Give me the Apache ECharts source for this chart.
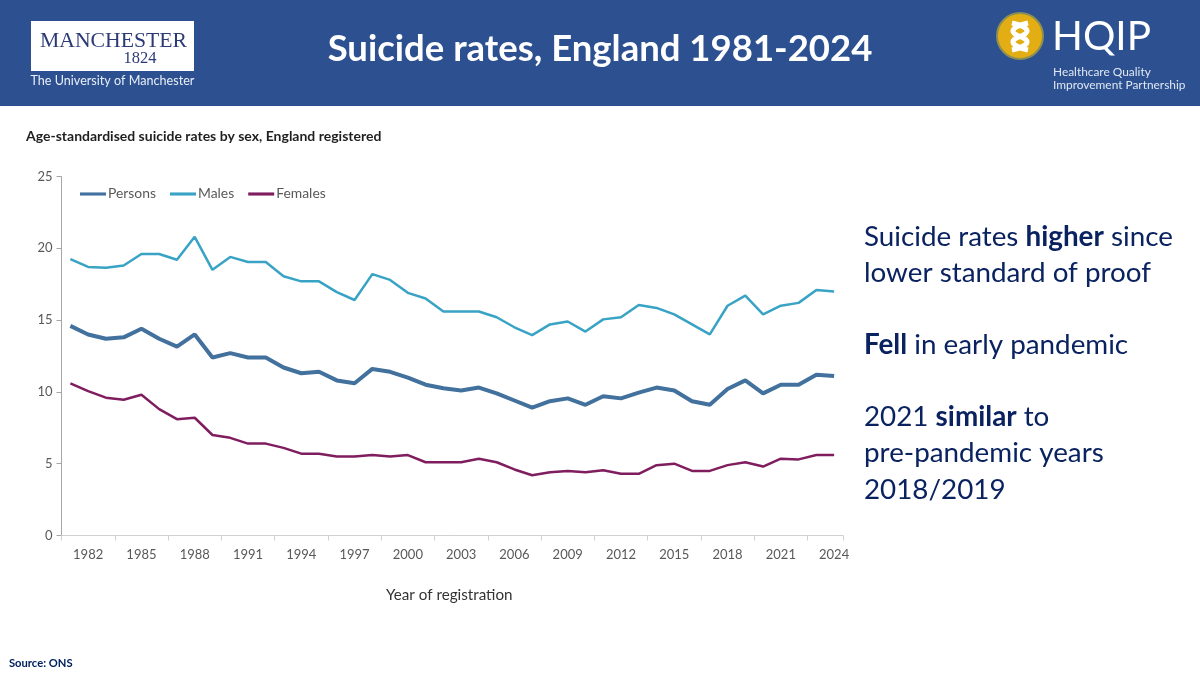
<!DOCTYPE html>
<html><head><meta charset="utf-8">
<style>html,body{margin:0;padding:0;background:#fff}#c{width:1200px;height:675px}</style>
<script src="https://cdn.jsdelivr.net/npm/echarts@6/dist/echarts.min.js"></script>
</head><body><div id="c"></div>
<script>
const years = [1981,1982,1983,1984,1985,1986,1987,1988,1989,1990,1991,1992,1993,1994,1995,1996,1997,1998,1999,2000,2001,2002,2003,2004,2005,2006,2007,2008,2009,2010,2011,2012,2013,2014,2015,2016,2017,2018,2019,2020,2021,2022,2023,2024].map(String);
const persons = [14.6,14.0,13.7,13.8,14.4,13.7,13.15,14.0,12.4,12.7,12.4,12.4,11.7,11.3,11.4,10.8,10.6,11.6,11.4,11.0,10.5,10.25,10.1,10.3,9.9,9.4,8.9,9.35,9.55,9.1,9.7,9.55,9.95,10.3,10.1,9.35,9.1,10.2,10.8,9.9,10.5,10.5,11.2,11.1];
const males = [19.25,18.7,18.65,18.8,19.6,19.6,19.2,20.8,18.5,19.4,19.05,19.05,18.05,17.7,17.7,16.95,16.4,18.2,17.8,16.9,16.5,15.6,15.6,15.6,15.2,14.5,13.95,14.7,14.9,14.2,15.05,15.2,16.05,15.85,15.4,14.7,14.0,16.0,16.7,15.4,16.0,16.2,17.1,17.0];
const females = [10.6,10.05,9.6,9.45,9.8,8.8,8.1,8.2,7.0,6.8,6.4,6.4,6.1,5.7,5.7,5.5,5.5,5.6,5.5,5.6,5.1,5.1,5.1,5.35,5.1,4.6,4.2,4.4,4.5,4.4,4.55,4.3,4.3,4.9,5.0,4.5,4.5,4.9,5.1,4.8,5.35,5.3,5.6,5.6];
const FONT = 'Lato, "Open Sans", sans-serif';
const NAVY = '#0a2360';
const BODY = 27.8;
function t(x,y,text,size,color,extra){
  return {type:'text',x:x,y:y,z:10,silent:true,style:Object.assign({text:text,fontFamily:FONT,fontSize:size,fill:color,textVerticalAlign:'middle'},extra||{})};
}
function rich(x,y,text){
  return {type:'text',x:x,y:y,z:10,silent:true,style:{text:text,fontFamily:FONT,fontSize:BODY,fill:NAVY,textVerticalAlign:'middle',
    rich:{b:{fontFamily:FONT,fontSize:BODY,fontWeight:'bold',fill:NAVY}, n:{fontFamily:FONT,fontSize:BODY,fill:NAVY}}}};
}
const graphic = [
  {type:'rect',z:1,silent:true,shape:{x:0,y:0,width:1200,height:106},style:{fill:'#2c5090'}},
  {type:'rect',z:2,silent:true,shape:{x:31,y:21,width:163,height:50},style:{fill:'#ffffff'}},
  t(113.5,41,'MANCHESTER',21.7,'#2b3a75',{fontFamily:'"Liberation Serif",serif',textAlign:'center'}),
  t(140,59,'1824',16.5,'#2b3a75',{fontFamily:'"Liberation Serif",serif',textAlign:'center'}),
  t(30.5,81,'The University of Manchester',12.6,'#e8eef8'),
  t(600,49,'Suicide rates, England 1981-2024',36.5,'#ffffff',{fontWeight:'bold',textAlign:'center'}),
  {type:'circle',z:3,silent:true,shape:{cx:1020,cy:36,r:23},style:{fill:'#e3ae14',stroke:'#8c8f52',lineWidth:2}},
  {type:'polyline',z:4,silent:true,shape:{smooth:0.5,points:[[1012,23],[1027,31],[1013,42],[1028,50]]},style:{stroke:'#ffffff',lineWidth:5,fill:null}},
  {type:'polyline',z:4,silent:true,shape:{smooth:0.5,points:[[1028,23],[1013,31],[1027,42],[1012,50]]},style:{stroke:'#ffffff',lineWidth:5,fill:null}},
  t(1052,37,'HQIP',40.5,'#ffffff'),
  t(1053,72,'Healthcare Quality',11.9,'#dfe7f3'),
  t(1053,85,'Improvement Partnership',11.9,'#dfe7f3'),
  t(26,136,'Age-standardised suicide rates by sex, England registered',14,'#1f1f1f',{fontWeight:'bold'}),
  t(9,663,'Source: ONS',11.2,'#002060',{fontWeight:'bold'}),
  rich(864,237,'{n|Suicide rates }{b|higher}{n| since}'),
  rich(864,273,'{n|lower standard of proof}'),
  rich(864,345,'{b|Fell}{n| in early pandemic}'),
  rich(864,417,'{n|2021 }{b|similar}{n| to}'),
  rich(864,453,'{n|pre-pandemic years}'),
  rich(864,490,'{n|2018/2019}')
];
const chart = echarts.init(document.getElementById('c'),null,{renderer:'canvas'});
chart.setOption({
  animation:false,
  backgroundColor:'#ffffff',
  textStyle:{fontFamily:FONT},
  graphic:graphic,
  grid:{left:61.5,right:357,top:176.5,bottom:139.5,containLabel:false},
  legend:{left:75,top:182,itemWidth:26,itemHeight:10,itemGap:14,icon:'path://M0 0H100V12H0Z',
    textStyle:{color:'#595959',fontSize:13.9,fontFamily:FONT,padding:[0,0,0,-3]},data:['Persons','Males','Females']},
  xAxis:{type:'category',data:years,boundaryGap:true,
    name:'Year of registration',nameLocation:'middle',nameGap:52,nameTextStyle:{color:'#333333',fontSize:15.2,fontFamily:FONT,padding:[0,6,0,0]},
    axisLine:{lineStyle:{color:'#d0d0d0',width:1}},
    axisTick:{show:true,length:5,interval:(i)=>i%3===0,lineStyle:{color:'#d0d0d0'}},
    axisLabel:{interval:(i)=>i%3===1,color:'#595959',fontSize:13,margin:13,fontFamily:FONT,hideOverlap:false}},
  yAxis:{type:'value',min:0,max:25,interval:5,
    axisLine:{show:true,lineStyle:{color:'#a6a6a6',width:1}},
    axisTick:{show:true,length:5,lineStyle:{color:'#a6a6a6'}},
    splitLine:{show:false},
    axisLabel:{color:'#595959',fontSize:13,margin:9,fontFamily:FONT}},
  series:[
    {name:'Persons',type:'line',data:persons,symbol:'none',lineStyle:{color:'#41719c',width:4},itemStyle:{color:'#41719c'}},
    {name:'Males',type:'line',data:males,symbol:'none',lineStyle:{color:'#38a3c4',width:2.5},itemStyle:{color:'#38a3c4'}},
    {name:'Females',type:'line',data:females,symbol:'none',lineStyle:{color:'#7f1d5e',width:2.5},itemStyle:{color:'#7f1d5e'}}
  ]
});
</script></body></html>
